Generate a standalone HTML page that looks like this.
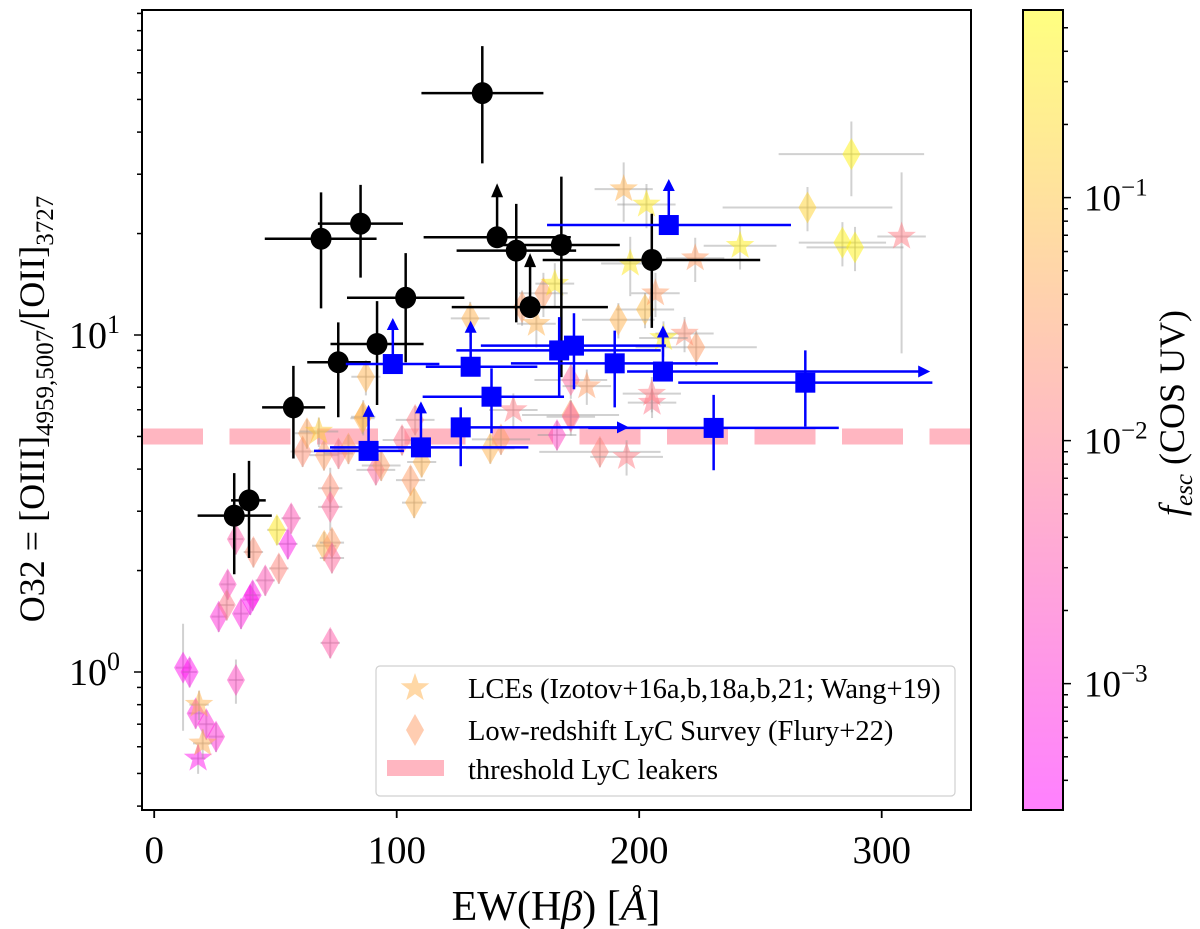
<!DOCTYPE html>
<html><head><meta charset="utf-8"><style>
html,body{margin:0;padding:0;background:#fff}
svg{display:block;font-family:"Liberation Serif","DejaVu Serif",serif}
</style></head><body>
<svg id="chart" xmlns="http://www.w3.org/2000/svg" width="1200" height="929" viewBox="0 0 1200 929">
<defs>
<linearGradient id="cbgrad" x1="0" y1="1" x2="0" y2="0">
<stop offset="0" stop-color="#ff80ff"/><stop offset="0.5" stop-color="#ffbfbf"/><stop offset="1" stop-color="#ffff80"/>
</linearGradient>
<clipPath id="plotclip"><rect x="142" y="10" width="829" height="800"/></clipPath>
</defs>
<g id="plot" clip-path="url(#plotclip)"></g>
<g id="axes"></g>
</svg>
<script>
// ---- data ----
const starEW   = [18.1, 18.5, 20.0, 67.9, 148.1, 205.3, 194.8, 308.2, 193.6, 203, 241.6, 196.3, 223.1, 165.2, 206.7, 157.6, 218.7, 210, 205.2, 178.4];
const starO32  = [0.554, 0.80, 0.614, 5.17, 5.99, 6.3, 4.35, 19.6, 27.1, 24.4, 18.4, 16.3, 16.9, 14.2, 13.3, 10.8, 10.1, 9.8, 6.7, 7.05];
const starFesc = [0.0005, 0.06, 0.05, 0.12, 0.012, 0.01, 0.012, 0.012, 0.06, 0.3, 0.35, 0.3, 0.03, 0.3, 0.03, 0.06, 0.02, 0.35, 0.012, 0.03];
const starXe   = [3, 4, 4, 8, 10, 10, 15, 10, 12, 12, 15, 12, 12, 8, 10, 8, 12, 10, 12, 10];
const starYe   = [0.1, 0.1, 0.1, 0.1, 0.12, 0.1, 0.12, 0.55, 0.2, 0.15, 0.15, 0.2, 0.15, 0.15, 0.15, 0.15, 0.12, 0.12, 0.12, 0.12];
const diaEW   = [11.9, 14.6, 33.7, 17.1, 21.5, 25.5, 30.3, 26.6, 29.9, 35.8, 39.6, 40.6, 33.7, 40.9, 45.8, 51.4, 50.6, 55.1, 56.5, 72.6, 72.6, 70.1, 73.3, 73.3, 72.6, 61.2, 63.0, 70.0, 76.0, 80.1, 85.9, 91.4, 93.6, 102.2, 105.7, 107.2, 110.3, 107.6, 138.6, 143, 166.1, 171.7, 183.8, 287.5, 269.4, 283.8, 289, 160.5, 202.4, 191.4, 151.7, 130.3, 223.5, 171.8, 171.8, 87.3, 86.2];
const diaO32  = [1.03, 1.0, 0.947, 0.754, 0.70, 0.643, 1.82, 1.46, 1.58, 1.49, 1.64, 1.69, 2.48, 2.27, 1.87, 2.03, 2.64, 2.40, 2.86, 3.51, 3.09, 2.37, 2.42, 2.18, 1.22, 4.51, 5.11, 4.40, 4.45, 4.6, 5.66, 3.98, 4.1, 4.88, 3.71, 3.18, 4.2, 5.6, 4.61, 4.9, 5.05, 5.79, 4.5, 34.4, 23.9, 18.8, 18.2, 13.3, 11.9, 11.1, 12.1, 11.2, 9.2, 7.35, 5.72, 7.52, 5.72];
const diaFesc = [0.0005, 0.0005, 0.002, 0.0008, 0.001, 0.001, 0.002, 0.001, 0.01, 0.0008, 0.0004, 0.0006, 0.004, 0.02, 0.003, 0.015, 0.3, 0.0006, 0.003, 0.02, 0.006, 0.06, 0.03, 0.006, 0.004, 0.02, 0.04, 0.03, 0.01, 0.03, 0.06, 0.006, 0.03, 0.01, 0.03, 0.06, 0.06, 0.012, 0.06, 0.03, 0.002, 0.03, 0.015, 0.4, 0.15, 0.4, 0.4, 0.03, 0.08, 0.06, 0.03, 0.06, 0.03, 0.006, 0.006, 0.06, 0.06];
const diaXe   = [3, 3, 3, 3, 3, 3, 3, 3, 3, 3, 3, 3, 3, 4, 4, 4, 4, 4, 4, 5, 5, 5, 5, 5, 4, 5, 5, 6, 6, 6, 5, 8, 8, 8, 6, 5, 6, 8, 10, 12, 8, 20, 25, 30, 35, 18, 20, 10, 12, 15, 10, 8, 25, 15, 10, 6, 5];
const diaYe   = [0.35, 0.1, 0.15, 0.1, 0.1, 0.1, 0.1, 0.1, 0.1, 0.1, 0.1, 0.1, 0.1, 0.1, 0.1, 0.1, 0.1, 0.1, 0.1, 0.15, 0.15, 0.1, 0.1, 0.1, 0.1, 0.1, 0.1, 0.1, 0.1, 0.1, 0.1, 0.1, 0.1, 0.1, 0.1, 0.1, 0.1, 0.1, 0.1, 0.1, 0.1, 0.1, 0.1, 0.25, 0.15, 0.15, 0.15, 0.15, 0.12, 0.12, 0.12, 0.12, 0.12, 0.12, 0.12, 0.12, 0.12];
const bkEW  = [135.3, 68.8, 85.1, 141.4, 149.3, 167.9, 205.2, 103.7, 155, 91.9, 75.9, 57.4, 33.0, 39.1];
const bkO32 = [52.2, 19.3, 21.4, 19.5, 17.8, 18.5, 16.7, 12.9, 12.1, 9.4, 8.3, 6.1, 2.91, 3.23];
const bkXlo = [110.2, 45.6, 67.5, 111.1, 124.7, 143.4, 160.2, 79.5, 122.7, 72.7, 63.1, 44.5, 17.9, 31.7];
const bkXhi = [160.5, 91.7, 102.6, 171.8, 174, 192, 249.9, 127.9, 187.1, 111.1, 89.3, 70.5, 48.5, 46.0];
const bkYlo = [32.3, 12.0, 14.8, 0, 10.9, 7.5, 10.5, 8.3, 0, 6.2, 5.7, 4.3, 1.95, 2.18];
const bkYhi = [72, 26.5, 27.9, 0, 24.5, 29.5, 22.9, 17.5, 0, 12.6, 10.9, 8.1, 3.89, 4.23];
const bkLim = [0, 0, 0, 1, 0, 0, 0, 0, 1, 0, 0, 0, 0, 0];
const blEW  = [212.2, 98.4, 130.5, 167, 173.1, 189.9, 209.8, 268.5, 139.1, 126.4, 230.7, 88.4, 110];
const blO32 = [21.2, 8.2, 8.05, 9.0, 9.3, 8.24, 7.79, 7.22, 6.56, 5.32, 5.3, 4.53, 4.64];
const blXlo = [162, 79, 112, 124.6, 134.7, 147.1, 195, 216.1, 110.7, 126.4, 179, 65.9, 72.5];
const blXhi = [262.6, 117.6, 158, 208.9, 211, 232.5, 320, 320.9, 169, 195.8, 282.3, 103, 154.3];
const blYlo = [0, 0, 0, 6.6, 6.9, 6.1, 0, 5.35, 5.11, 4.08, 3.97, 0, 0];
const blYhi = [0, 0, 0, 11.3, 11.6, 10.3, 0, 9.0, 7.96, 6.1, 6.64, 0, 0];
const blYLim = [1, 1, 1, 0, 0, 0, 1, 0, 0, 0, 0, 1, 1];
const blXLim = [0, 0, 0, 0, 0, 0, 1, 0, 0, 1, 0, 0, 0];
const threshold = 5;
const xTicks = [0, 100, 200, 300];
const yMajor = [1, 10];
const cbMajor = [-1, -2, -3];

// ---- scales ----
const X0 = 154.2, XS = 2.425;
function xs(v){ return X0 + XS * v; }
function ys(v){ return 672 - 337 * Math.log10(v); }
const CB_TOP = 10, CB_BOT = 810, CBL_TOP = -0.228, CBL_BOT = -3.52;
function cby(l){ return CB_BOT - (l - CBL_BOT) / (CBL_TOP - CBL_BOT) * (CB_BOT - CB_TOP); }
function cmap(f){
  let t = (Math.log10(f) - CBL_BOT) / (CBL_TOP - CBL_BOT);
  t = Math.max(0, Math.min(1, t));
  return 'rgb(255,' + Math.round(255 * t) + ',' + Math.round(255 * (1 - t)) + ')';
}
const NS = 'http://www.w3.org/2000/svg';
const plot = document.getElementById('plot');
const axes = document.getElementById('axes');
function mk(tag, attrs, parent){
  const e = document.createElementNS(NS, tag);
  for (const k in attrs) e.setAttribute(k, attrs[k]);
  (parent || plot).appendChild(e);
  return e;
}
function line(x1, y1, x2, y2, stroke, w, parent, op){
  const l = mk('line', {x1: x1, y1: y1, x2: x2, y2: y2, stroke: stroke, 'stroke-width': w}, parent);
  if (op) l.setAttribute('stroke-opacity', op);
  return l;
}
function starPath(cx, cy, R, r){
  let d = '';
  for (let i = 0; i < 10; i++){
    const a = -Math.PI / 2 + i * Math.PI / 5, rr = i % 2 ? r : R;
    d += (i ? 'L' : 'M') + (cx + rr * Math.cos(a)).toFixed(1) + ' ' + (cy + rr * Math.sin(a)).toFixed(1);
  }
  return d + 'Z';
}
function diaPath(cx, cy, w, h){
  return 'M' + cx + ' ' + (cy - h) + 'L' + (cx + w) + ' ' + cy + 'L' + cx + ' ' + (cy + h) + 'L' + (cx - w) + ' ' + cy + 'Z';
}

const th = mk('line', {x1: 142, x2: 971, y1: ys(threshold), y2: ys(threshold), stroke: '#ffb6c1', 'stroke-width': 16, 'stroke-dasharray': '61 26.5'});



for (let i = 0; i < diaEW.length; i++){
  const g = mk('g', {});
  
  
  const cx = xs(diaEW[i]), cy = ys(diaO32[i]);
  line(xs(diaEW[i] - diaXe[i]), cy, xs(diaEW[i] + diaXe[i]), cy, '#999', 2, g, 0.45);
  line(cx, ys(diaO32[i] * (1 - diaYe[i])), cx, ys(diaO32[i] * (1 + diaYe[i])), '#999', 2, g, 0.45);
  mk('path', {d: diaPath(cx, cy, 9, 16), fill: cmap(diaFesc[i]), 'fill-opacity': 0.5}, g);
}
for (let i = 0; i < starEW.length; i++){
  const g = mk('g', {});
  
  
  const cx = xs(starEW[i]), cy = ys(starO32[i]);
  line(xs(starEW[i] - starXe[i]), cy, xs(starEW[i] + starXe[i]), cy, '#999', 2, g, 0.45);
  line(cx, ys(starO32[i] * (1 - starYe[i])), cx, ys(starO32[i] * (1 + starYe[i])), '#999', 2, g, 0.45);
  mk('path', {d: starPath(cx, cy, 15, 6), fill: cmap(starFesc[i]), 'fill-opacity': 0.5}, g);
}
for (let i = 0; i < bkEW.length; i++){
  const g = mk('g', {});
  
  
  const cx = xs(bkEW[i]), cy = ys(bkO32[i]);
  line(xs(bkXlo[i]), cy, xs(bkXhi[i]), cy, '#000', 2.5, g);
  if (bkLim[i]){
    line(cx, cy, cx, cy - 44, '#000', 2.5, g);
    mk('path', {d: 'M' + (cx - 6) + ' ' + (cy - 40) + 'L' + cx + ' ' + (cy - 54) + 'L' + (cx + 6) + ' ' + (cy - 40) + 'Z', fill: '#000'}, g);
  } else {
    line(cx, ys(bkYlo[i]), cx, ys(bkYhi[i]), '#000', 2.5, g);
  }
  mk('ellipse', {cx: cx, cy: cy, rx: 10.5, ry: 11, fill: '#000'}, g);
}
for (let i = 0; i < blEW.length; i++){
  const g = mk('g', {});
  
  
  const cx = xs(blEW[i]), cy = ys(blO32[i]);
  line(xs(blXlo[i]), cy, xs(blXhi[i]) - (blXLim[i] ? 8 : 0), cy, '#0000ff', 2.5, g);
  if (blXLim[i]){
    const tx = xs(blXhi[i]);
    mk('path', {d: 'M' + (tx - 12) + ' ' + (cy - 6) + 'L' + tx + ' ' + cy + 'L' + (tx - 12) + ' ' + (cy + 6) + 'Z', fill: '#0000ff'}, g);
  }
  if (blYLim[i]){
    line(cx, cy, cx, cy - 38, '#0000ff', 2.5, g);
    mk('path', {d: 'M' + (cx - 6) + ' ' + (cy - 34) + 'L' + cx + ' ' + (cy - 46) + 'L' + (cx + 6) + ' ' + (cy - 34) + 'Z', fill: '#0000ff'}, g);
  } else {
    line(cx, ys(blYlo[i]), cx, ys(blYhi[i]), '#0000ff', 2.5, g);
  }
  mk('rect', {x: cx - 10, y: cy - 10, width: 20, height: 20, fill: '#0000ff'}, g);
}

// ---- axes ----
const frame = mk('rect', {x: 142, y: 10, width: 829, height: 800, fill: 'none', stroke: '#000', 'stroke-width': 2}, axes);


for (const t of xTicks){
  line(xs(t), 810, xs(t), 818, '#000', 1.8, axes);
  const tx = mk('text', {x: xs(t), y: 863, 'text-anchor': 'middle', 'font-size': 39}, axes);
  tx.textContent = t;
  
  
}
for (let dec = -1; dec <= 1; dec++){
  for (let m = 1; m <= 9; m++){
    const v = m * Math.pow(10, dec), y = ys(v);
    if (y < 10 || y > 810) continue;
    line(142, y, m === 1 ? 134 : 137, y, '#000', 1.5, axes);
  }
}
for (const v of yMajor){
  const tx = mk('text', {x: 120, y: ys(v) + 13, 'text-anchor': 'end', 'font-size': 38}, axes);
  
  
  tx.innerHTML = '10<tspan dy="-15" font-size="26">' + Math.round(Math.log10(v)) + '</tspan>';
}
const xl = mk('text', {x: 556, y: 920, 'text-anchor': 'middle', 'font-size': 42}, axes);


xl.innerHTML = 'EW(H<tspan font-style="italic">β</tspan>) [<tspan font-style="italic">Å</tspan>]';
const yl = mk('text', {x: 0, y: 0, 'text-anchor': 'middle', 'font-size': 36, transform: 'translate(44,409) rotate(-90)'}, axes);


yl.innerHTML = 'O32 = [OIII]<tspan dy="9" font-size="25">4959,5007</tspan><tspan dy="-9">/[OII]</tspan><tspan dy="9" font-size="25">3727</tspan>';

const lg = mk('g', {}, axes);


mk('rect', {x: 376, y: 666, width: 579, height: 130, rx: 4, fill: '#fff', 'fill-opacity': 0.8, stroke: '#d0d0d0', 'stroke-width': 1.2}, lg);
const le1 = mk('path', {d: starPath(415, 688, 15, 6), fill: cmap(0.06), 'fill-opacity': 0.5}, lg);


const le2 = mk('path', {d: diaPath(415, 730, 9, 16), fill: cmap(0.03), 'fill-opacity': 0.5}, lg);


const le3 = mk('rect', {x: 387, y: 760, width: 57, height: 16, fill: '#ffb6c1'}, lg);


const legTexts = ['LCEs (Izotov+16a,b,18a,b,21; Wang+19)', 'Low-redshift LyC Survey (Flury+22)', 'threshold LyC leakers'];
const legY = [698, 740, 779];
for (let i = 0; i < 3; i++){
  const t = mk('text', {x: 468, y: legY[i], 'font-size': 28.5}, lg);
  t.textContent = legTexts[i];
  
  
}

const cb = mk('rect', {x: 1023, y: CB_TOP, width: 40, height: CB_BOT - CB_TOP, fill: 'url(#cbgrad)', stroke: '#000', 'stroke-width': 2}, axes);


for (let dec = -4; dec <= -1; dec++){
  for (let m = 1; m <= 9; m++){
    const l = dec + Math.log10(m), y = cby(l);
    if (y < CB_TOP || y > CB_BOT) continue;
    line(1063, y, m === 1 ? 1071 : 1068, y, '#000', 1.5, axes);
  }
}
for (const l of cbMajor){
  const t = mk('text', {x: 1084, y: cby(l) + 13, 'font-size': 37}, axes);
  
  
  t.innerHTML = '10<tspan dy="-15" font-size="25">−' + (-l) + '</tspan>';
}
const cl = mk('text', {x: 0, y: 0, 'text-anchor': 'middle', 'font-size': 36, transform: 'translate(1184,413) rotate(-90)'}, axes);


cl.innerHTML = '<tspan font-style="italic">f</tspan><tspan dy="8" font-size="25" font-style="italic">esc</tspan><tspan dy="-8"> (COS UV)</tspan>';
</script>
</body></html>
